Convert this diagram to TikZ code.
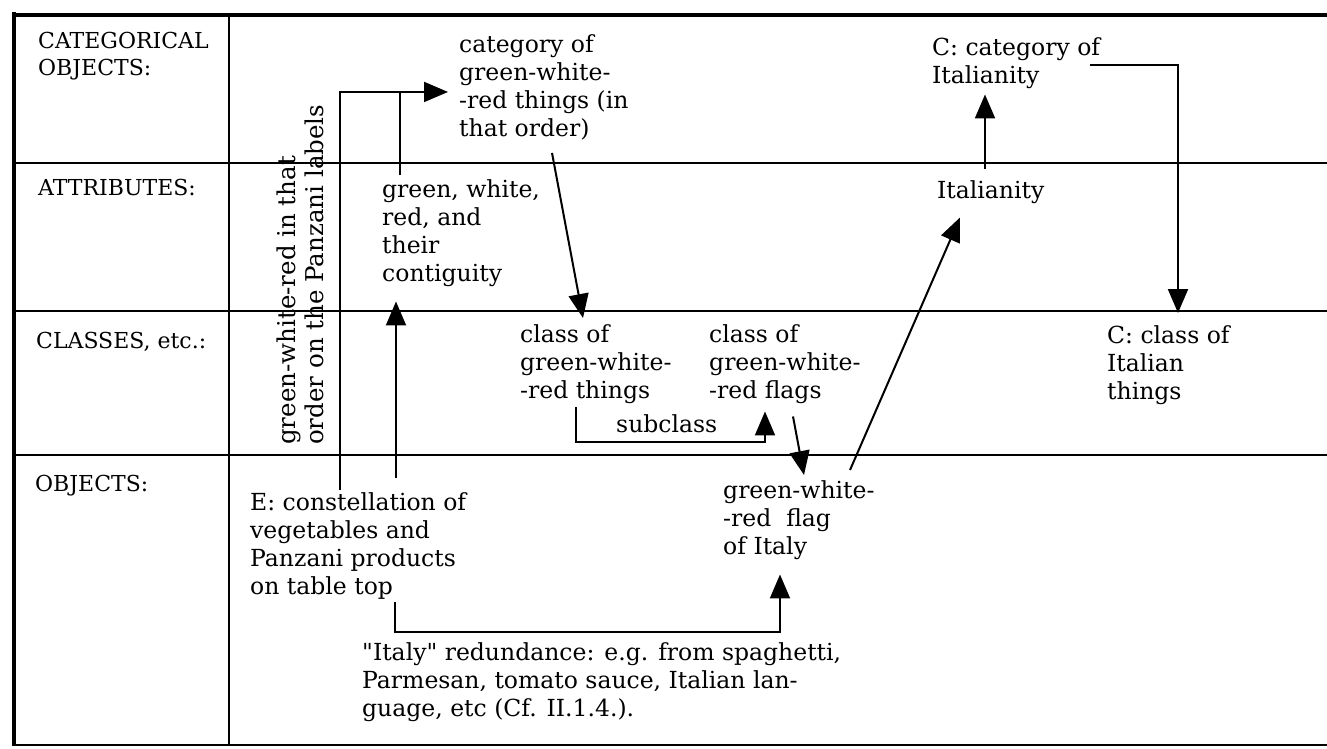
\documentclass[tikz,border=0pt]{standalone}
\usepackage{fontspec}
\setmainfont{DejaVu Serif}[Ligatures=TeXOff]
\usetikzlibrary{arrows.meta,calc}
\tikzstyle{arrow} = [line width=2pt,-{Triangle[length=24pt,width=20pt]}]
\tikzstyle{rule} = [line width=2.5pt]
\tikzstyle{row} = [anchor=north west, inner sep=0pt, align=left, font=\fontsize{22}{27}\selectfont]
\tikzstyle{txt} = [anchor=north west, inner sep=0pt, align=left, font=\fontsize{23.5}{28}\selectfont]

\begin{document}
\begin{tikzpicture}[x=1pt,y=-1pt]
\useasboundingbox (0,0) rectangle (1327,748);
% the table
\draw [line width=3.5pt] (14,12) -- (14,746);
\draw [line width=3.5pt] (14,15) -- (1327,15);
\draw [rule] (14,745) -- (1327,745);
\draw [rule] (229,15) -- (229,745);
\foreach \y in {163,311,455} \draw [rule] (14,\y) -- (1327,\y);
% row names
\node (rowcat) [row] at (38,32) {CATEGORICAL\\OBJECTS:};
\node (rowattr) [row] at (38,179) {ATTRIBUTES:};
\node (rowcls) [row] at (36,332) {CLASSES, etc.:};
\node (rowobj) [row] at (35,475) {OBJECTS:};
% entries
\node (panz) [txt, rotate=90, font=\fontsize{24.5}{28}\selectfont] at (277,445) {green-white-red in that\\order on the Panzani labels};
\node (catgwr) [txt] at (459,34) {category of\\green-white-\\-red things (in\\that order)};
\node (colours) [txt] at (382,179) {green, white,\\red, and\\their\\contiguity};
\node (italianity) [txt] at (937,180) {Italianity};
\node (ccat) [txt] at (932,37) {C: category of\\Italianity};
\node (clsthings) [txt] at (520,324) {class of\\green-white-\\-red things};
\node (clsflags) [txt] at (709,324) {class of\\green-white-\\-red flags};
\node (ccls) [txt] at (1107,325) {C: class of\\Italian\\things};
\node (flag) [txt] at (723,480) {green-white-\\-red\ \ flag\\of Italy};
\node (scene) [txt] at (250,492) {E: constellation of\\vegetables and\\Panzani products\\on table top};
\node (redund) [txt] at (362,642) {"Italy" redundance: e.g. from spaghetti,\\Parmesan, tomato sauce, Italian lan-\\guage, etc (Cf. II.1.4.).};
% connectors
\coordinate (top) at ($(catgwr.west)+(-11,5)$);
\coordinate (c1) at ($(colours.north west)+(18,-4)$);
\draw [arrow] ($(scene.north west)+(90,-2)$) |- (top);
\draw [line width=2pt] (c1) -- (c1 |- top);
\draw [arrow] ($(scene.north west)+(146,-14)$) -- ($(colours.south west)+(14,15)$);
\draw [arrow] ($(catgwr.south west)+(93,13)$) -- ($(clsthings.north west)+(63,-6)$);
\draw [arrow] ($(clsthings.south west)+(56,4)$) -- ++(0,35) -| node [pos=.24, above=9pt, inner sep=0pt, font=\fontsize{23.5}{28}\selectfont] (sub) {subclass} ($(clsflags.south west)+(56,8)$);
\draw [arrow] ($(clsflags.south west)+(84,13)$) -- ($(flag.north west)+(81,-5)$);
\draw [arrow] ($(flag.north west)+(127,-10)$) -- ($(italianity.south west)+(23,14)$);
\draw [arrow] ($(italianity.north west)+(48,-11)$) -- ($(ccat.south west)+(53,6)$);
\draw [arrow] ($(ccat.north west)+(158,28)$) -| ($(ccls.north west)+(71,-12)$);
\draw [arrow] ($(scene.south west)+(145,3)$) -- ++(0,30) -| ($(flag.south west)+(57,15)$);
\end{tikzpicture}
\end{document}
